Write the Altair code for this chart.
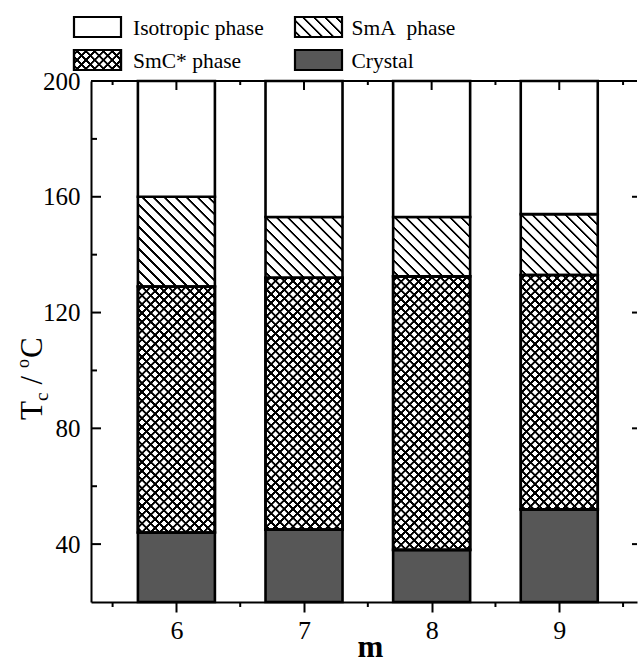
import math
import altair as alt

# ---------------- data ----------------
m_values = [6, 7, 8, 9]
t_crystal_smc = [44, 45, 38, 52]        # Crystal -> SmC*
t_smc_sma = [129, 132, 132.5, 133]      # SmC* -> SmA
t_sma_iso = [160, 153, 153, 154]        # SmA -> Isotropic
phase_names = ["Crystal", "SmC* phase", "SmA\u00a0\u00a0phase", "Isotropic phase"]
legend_order = ["Isotropic phase", "SmA\u00a0\u00a0phase", "SmC* phase", "Crystal"]
y_major = [40, 80, 120, 160, 200]
y_minor = [60, 100, 140, 180]
x_major = [6, 7, 8, 9]
x_minor = [5.5, 6.5, 7.5, 8.5, 9.5]

# ---------------- layout / style ----------------
Y_DOM = [20, 200]
X_DOM = [5.37, 9.57]
W, H = 546, 521
BAR = 77
FONT = "Liberation Serif"
CRYSTAL = "#575757"
CLEAR = "rgba(0,0,0,0)"
PX_PER_Y = H / (Y_DOM[1] - Y_DOM[0])


def hatch(w, h, kind, period, lw, bg):
    """45-degree line hatch as a linear gradient in bounding-box units."""
    s = w + h
    k = s / (w * w + h * h)
    if kind == "back":
        x1, y1, x2, y2 = 0, 1, k * w, 1 - k * h
    else:
        x1, y1, x2, y2 = 0, 0, k * w, k * h
    L = s / math.sqrt(2)
    stops = [{"offset": 0, "color": bg}]
    pos = period / 2
    ramp = 0.45
    while pos < L:
        for p, c in [(pos - lw / 2 - ramp, bg), (pos - lw / 2, "#000"),
                     (pos + lw / 2, "#000"), (pos + lw / 2 + ramp, bg)]:
            stops.append({"offset": round(min(max(p / L, 0), 1), 5), "color": c})
        pos += period
    stops.append({"offset": 1, "color": bg})
    return {"gradient": "linear", "x1": x1, "y1": y1, "x2": x2, "y2": y2,
            "stops": stops}


def fills(phase, w, h):
    if phase == "Isotropic phase":
        return "white", None
    if phase.startswith("SmA"):
        return hatch(w, h, "back", 7.8, 1.4, "white"), None
    if phase.startswith("SmC"):
        return (hatch(w, h, "back", 6.2, 1.5, "white"),
                hatch(w, h, "fwd", 6.2, 1.5, CLEAR))
    return CRYSTAL, None


seg = []
for i, m in enumerate(m_values):
    bounds = [Y_DOM[0], t_crystal_smc[i], t_smc_sma[i], t_sma_iso[i], Y_DOM[1]]
    for j, ph in enumerate(phase_names):
        lo, hi = bounds[j], bounds[j + 1]
        f1, f2 = fills(ph, BAR, (hi - lo) * PX_PER_Y)
        rec = {"m": m, "phase": ph, "lo": lo, "hi": hi, "f1": f1}
        if f2 is not None:
            rec["f2"] = f2
        seg.append(rec)

seg_cross = [r for r in seg if "f2" in r]

xs = alt.Scale(domain=X_DOM, nice=False, zero=False)
ys = alt.Scale(domain=Y_DOM, nice=False, zero=False)

X_AXIS = alt.Axis(values=x_major, tickSize=10, tickWidth=2, domainWidth=2,
                  labelFontSize=26, labelPadding=5, grid=False,
                  title="m", titleFontSize=31, titleFontWeight="bold",
                  titleBaseline="alphabetic", titleX=279, titleY=54)
Y_AXIS = alt.Axis(values=y_major, ticks=False, tickSize=0, domainWidth=2,
                  labelFontSize=25, labelPadding=11, grid=False, title=None)

bars = alt.Chart(alt.Data(values=seg)).mark_bar(
    size=BAR, stroke="black", strokeWidth=2.6
).encode(
    x=alt.X("m:Q", scale=xs, axis=X_AXIS),
    y=alt.Y("lo:Q", scale=ys, axis=Y_AXIS),
    y2="hi:Q",
    fill=alt.Fill("f1:N", scale=None),
)

bars_cross = alt.Chart(alt.Data(values=seg_cross)).mark_bar(
    size=BAR, stroke="black", strokeWidth=2.6
).encode(
    x=alt.X("m:Q", scale=xs, axis=X_AXIS),
    y=alt.Y("lo:Q", scale=ys, axis=Y_AXIS),
    y2="hi:Q",
    fill=alt.Fill("f2:N", scale=None),
)


def yticks(vals, x0, x1):
    return alt.Chart(alt.Data(values=[{"v": v} for v in vals])).mark_rule(
        strokeWidth=2, color="black"
    ).encode(y=alt.Y("v:Q", scale=ys, axis=Y_AXIS), x=alt.value(x0), x2=alt.value(x1))


def xticks(vals, y0, y1):
    return alt.Chart(alt.Data(values=[{"v": v} for v in vals])).mark_rule(
        strokeWidth=2, color="black"
    ).encode(x=alt.X("v:Q", scale=xs, axis=X_AXIS), y=alt.value(y0), y2=alt.value(y1))


top_line = alt.Chart(alt.Data(values=[{"a": 1}])).mark_rule(
    strokeWidth=2, color="black"
).encode(x=alt.value(0), x2=alt.value(W), y=alt.value(0))

tick_layers = [
    yticks(y_major, 0, 10), yticks(y_minor, 0, 6), yticks(y_major, W - 5, W),
    xticks(x_major, 0, 9), xticks(x_minor, 0, 4), xticks(x_minor, H, H + 5),
]

# ---------------- y title  T_c / °C (rotated) ----------------
pieces = [("T", 31, 0, 0.611), ("c", 19, 6, 0.444), ("/", 31, 0, 0.278),
          ("o", 18, -13, 0.5), ("C", 31, 0, 0.667)]
gaps = [0, 0, 8, 8, 1]
title_recs = []
ypos = 339
for (t, fs, shift, adv), g in zip(pieces, gaps):
    ypos -= g
    title_recs.append({"t": t, "fs": fs, "px": -49 + shift, "py": ypos})
    ypos -= fs * adv
ytitle = alt.Chart(alt.Data(values=title_recs)).mark_text(
    angle=270, align="left", baseline="alphabetic", font=FONT,
    fill="#000000", color="#000000"
).encode(
    x=alt.X("px:Q", scale=None), y=alt.Y("py:Q", scale=None),
    text="t:N", size=alt.Size("fs:Q", scale=None),
)

# ---------------- legend ----------------
leg = []
for idx, name in enumerate(legend_order):
    col, row = idx % 2, idx // 2
    bw, bh = 47, 20
    f1, f2 = fills(name, bw, bh)
    rec = {"label": name, "col": col, "row": row, "f1": f1}
    if f2 is not None:
        rec["f2"] = f2
    leg.append(rec)
leg_cross = [r for r in leg if "f2" in r]

leg_pos = [
    ("bx1", "-17 + datum.col * 221"),
    ("bx2", "30 + datum.col * 221"),
    ("by1", "-64 + datum.row * 33"),
    ("by2", "-44 + datum.row * 33"),
    ("tx", "42 + datum.col * 218.5"),
    ("ty", "-46 + datum.row * 33"),
]


def with_pos(ch):
    for name, expr in leg_pos:
        ch = ch.transform_calculate(**{name: expr})
    return ch


leg_box = with_pos(alt.Chart(alt.Data(values=leg))).mark_rect(
    stroke="black", strokeWidth=2.2
).encode(
    x=alt.X("bx1:Q", scale=None), x2="bx2:Q",
    y=alt.Y("by1:Q", scale=None), y2="by2:Q",
    fill=alt.Fill("f1:N", scale=None),
)
leg_box2 = with_pos(alt.Chart(alt.Data(values=leg_cross))).mark_rect(
    stroke="black", strokeWidth=2.2
).encode(
    x=alt.X("bx1:Q", scale=None), x2="bx2:Q",
    y=alt.Y("by1:Q", scale=None), y2="by2:Q",
    fill=alt.Fill("f2:N", scale=None),
)
leg_text = with_pos(alt.Chart(alt.Data(values=leg))).mark_text(
    align="left", baseline="alphabetic", font=FONT, fontSize=21.5,
    fill="#000000", color="#000000"
).encode(
    x=alt.X("tx:Q", scale=None), y=alt.Y("ty:Q", scale=None), text="label:N"
)

chart = alt.layer(
    bars, bars_cross, top_line, *tick_layers, ytitle, leg_box, leg_box2, leg_text
).properties(
    width=W, height=H,
    autosize=alt.AutoSizeParams(type="none"),
    padding={"left": 91, "top": 81, "right": 1, "bottom": 61},
    background="white",
).configure_view(stroke=None).configure_axis(
    labelFont=FONT, titleFont=FONT, labelColor="black", titleColor="black",
    domainColor="black", tickColor="black",
)

chart.save("out.html", embed_options={"renderer": "svg", "actions": False})
